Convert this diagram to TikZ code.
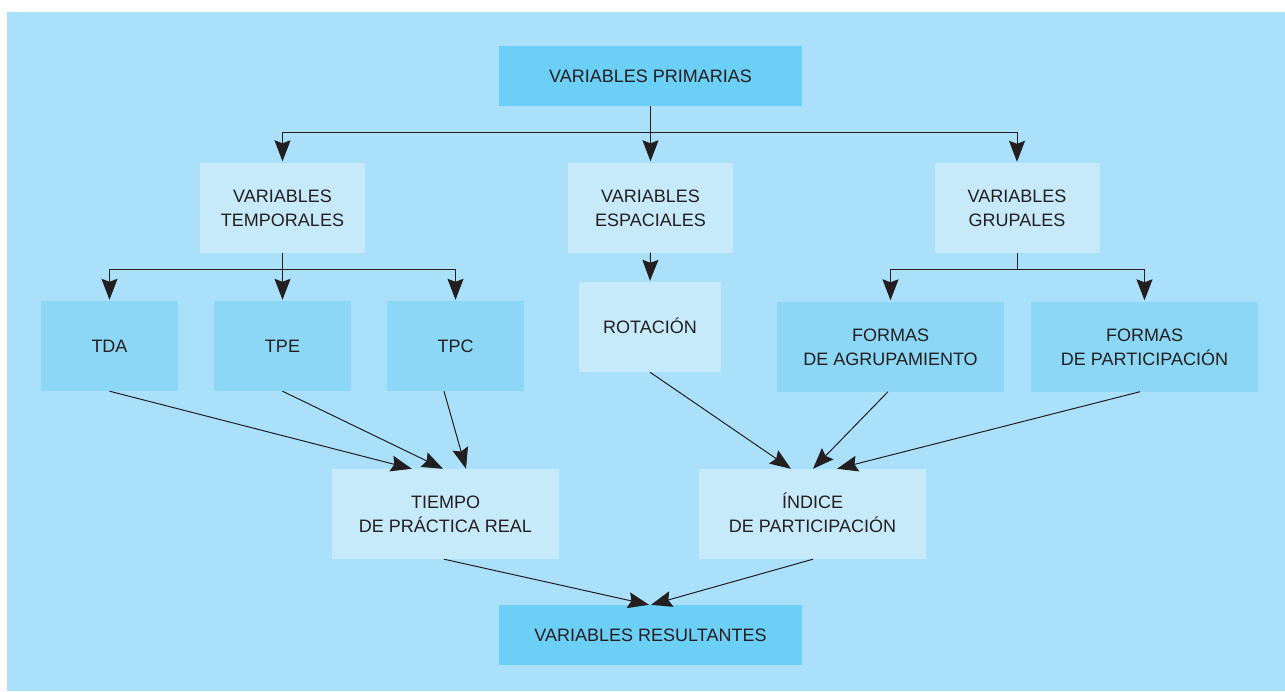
\documentclass[tikz,border=0pt]{standalone}
\usepackage{fontspec}
\setmainfont{Liberation Sans}
\usetikzlibrary{arrows.meta}
\definecolor{bgblue}{RGB}{170,224,249}
\definecolor{darkbox}{RGB}{108,207,245}
\definecolor{midbox}{RGB}{140,215,245}
\definecolor{lightbox}{RGB}{199,234,250}
\definecolor{ink}{RGB}{35,31,32}
\newcommand\hs{\rule{0pt}{19pt}}
\newcommand\ds{\rule[-6pt]{0pt}{6pt}}
\tikzset{
  box/.style={inner sep=0pt, align=center, text=ink, font=\fontsize{18}{24}\selectfont},
  darkb/.style={box, fill=darkbox, minimum width=303pt, minimum height=60pt},
  lightb/.style={box, fill=lightbox, minimum height=90pt},
  midb/.style={box, fill=midbox, minimum height=90pt},
  conn/.style={draw=ink, line width=1pt},
  arr/.style={conn, -{Stealth[length=21pt,width=16pt,inset=3pt]}},
}
\begin{document}
\begin{tikzpicture}[x=1pt,y=-1pt]
\useasboundingbox (0,0) rectangle (1285,691);
\fill[bgblue] (7,12) rectangle (1285,691);

\node[darkb] (prim) at (650.5,76) {\hs VARIABLES PRIMARIAS\ds};
\node[lightb, minimum width=165pt] (temp) at (282.5,207.5) {\hs VARIABLES\\TEMPORALES\ds};
\node[lightb, minimum width=165pt] (esp) at (650.5,207.5) {\hs VARIABLES\\ESPACIALES\ds};
\node[lightb, minimum width=165pt] (grup) at (1017,208) {\hs VARIABLES\\GRUPALES\ds};
\node[midb, minimum width=137pt] (tda) at (109.5,346) {\hs TDA\ds};
\node[midb, minimum width=137pt] (tpe) at (282.5,346) {\hs TPE\ds};
\node[midb, minimum width=137pt] (tpc) at (455.5,346) {\hs TPC\ds};
\node[lightb, minimum width=142pt] (rot) at (650,327) {\hs ROTACIÓN\ds};
\node[midb, minimum width=227pt] (agr) at (890.5,346.5) {\hs FORMAS\\DE AGRUPAMIENTO\ds};
\node[midb, minimum width=227pt] (par) at (1144.5,346.5) {\hs FORMAS\\DE PARTICIPACIÓN\ds};
\node[lightb, minimum width=227pt] (tiempo) at (445.5,514) {\hs TIEMPO\\DE PRÁCTICA REAL\ds};
\node[lightb, minimum width=227pt] (indice) at (812.5,514) {\hs ÍNDICE\\DE PARTICIPACIÓN\ds};
\node[darkb] (res) at (650.5,635) {\hs VARIABLES RESULTANTES\ds};

% top level
\coordinate (j1) at (650.5,132);
\draw[conn] (prim.south) -- (j1);
\draw[arr, shorten >=1pt] (j1) -- (esp.north);
\draw[arr, shorten >=1pt] (j1) -| (temp.north);
\draw[arr, shorten >=1pt] (j1) -| (grup.north);

% temporales
\coordinate (j2) at (282.5,269);
\draw[conn] (temp.south) -- (j2);
\draw[arr, shorten >=1pt] (j2) -| (tda.north);
\draw[arr, shorten >=1pt] (j2) -- (tpe.north);
\draw[arr, shorten >=1pt] (j2) -| (tpc.north);

% espaciales
\draw[arr, shorten >=1pt] (esp.south) -- (rot.north);

% grupales
\coordinate (j3) at (1017,269);
\draw[conn] (grup.south) -- (j3);
\draw[arr, shorten >=1pt] (j3) -| (agr.north);
\draw[arr, shorten >=1pt] (j3) -| (par.north);

% to tiempo
\draw[arr] (tda.south) -- ([xshift=80pt]tiempo.north west);
\draw[arr] (tpe.south) -- ([xshift=-2.5pt]tiempo.north);
\draw[arr] ([xshift=-11.5pt]tpc.south) -- ([xshift=20.5pt]tiempo.north);

% to indice
\draw[arr] (rot.south) -- ([xshift=-21.5pt]indice.north);
\draw[arr] ([xshift=-2.5pt]agr.south) -- ([xshift=0.5pt]indice.north);
\draw[arr] ([xshift=-4.5pt]par.south) -- ([xshift=24.5pt]indice.north);

% to resultantes
\draw[arr] ([xshift=-1.5pt]tiempo.south) -- ([xshift=-1.5pt]res.north);
\draw[arr] ([xshift=0.5pt]indice.south) -- ([xshift=0.5pt]res.north);
\end{tikzpicture}
\end{document}
